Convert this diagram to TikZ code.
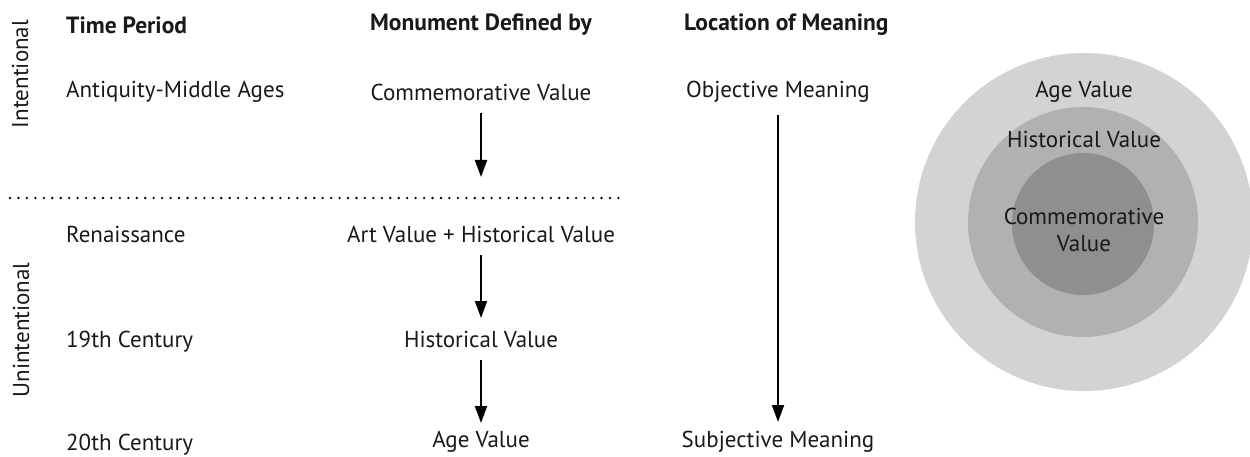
\documentclass[tikz,border=0pt]{standalone}
\usepackage{fontspec}
\setmainfont{PT Sans}
\usetikzlibrary{arrows.meta}
\definecolor{outerc}{HTML}{D3D3D3}
\definecolor{midc}{HTML}{B1B1B1}
\definecolor{innerc}{HTML}{8F8F8F}
\tikzset{
  txt/.style={inner sep=0pt, font=\fontsize{23}{27}\selectfont, text=black!90},
  hdr/.style={txt, font=\fontsize{23.5}{27}\selectfont\bfseries},
  lft/.style={txt, anchor=west},
  arr/.style={line width=2pt, -{Triangle[width=12pt,length=17pt]}},
  dots/.style={line width=2.6pt, line cap=round, dash pattern=on 0pt off 8.45pt}
}
\begin{document}
\begin{tikzpicture}[x=1pt,y=-1pt]
\useasboundingbox (0,0) rectangle (1250,457);
% circles
\fill[outerc] (1084,222) circle (169);
\fill[midc] (1083,222) circle (115);
\fill[innerc] (1083,224) circle (71);
\node[txt] (cage) at (1084,92) {Age Value};
\node[txt] (chist) at (1084,139) {Historical Value};
\node[txt, align=center, font=\fontsize{23}{27}\selectfont] (ccomm) at (1084,230) {Commemorative\\Value};
% side labels
\node[txt, rotate=90] (intent) at (20,74) {Intentional};
\node[txt, rotate=90] (unintent) at (21,330) {Unintentional};
% headers
\node[hdr, anchor=west] (h1) at (66,25) {Time Period};
\node[hdr] (h2) at (481,25) {Monument Defined by};
\node[hdr, anchor=west] (h3) at (684,25) {Location of Meaning};
% left column
\node[lft] (t1) at (66,92) {Antiquity-Middle Ages};
\node[lft] (t2) at (66,234) {Renaissance};
\node[lft] (t3) at (66,342) {19th Century};
\node[lft] (t4) at (66,445) {20th Century};
% middle column
\node[txt] (cv) at (481,92) {Commemorative Value};
\node[txt] (av) at (481,234) {Art Value + Historical Value};
\node[txt] (hv) at (481,339) {Historical Value};
\node[txt] (agev) at (481,442) {Age Value};
% right column
\node[txt] (om) at (778,92) {Objective Meaning};
\node[txt] (sm) at (778,442) {Subjective Meaning};
% arrows
\draw[arr, shorten <=21pt, shorten >=57pt] (cv.center) -- (av.center);
\draw[arr, shorten <=21pt, shorten >=21pt] (av.center) -- (hv.center);
\draw[arr, shorten <=21pt, shorten >=19pt] (hv.center) -- (agev.center);
\draw[arr, shorten <=23pt, shorten >=20pt] (om.center) -- (sm.center);
% dotted divider
\coordinate (d1) at (10,198);
\coordinate (d2) at (620,198);
\draw[dots] (d1) -- (d2);
\end{tikzpicture}
\end{document}
